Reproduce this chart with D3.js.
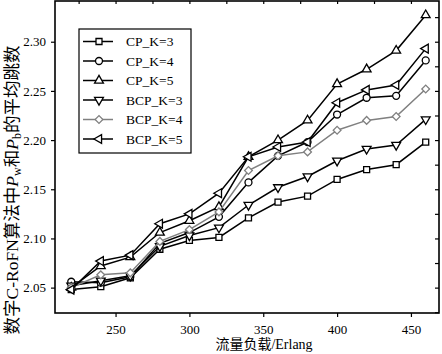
<!DOCTYPE html>
<html>
<head>
<meta charset="utf-8">
<script src="https://cdn.jsdelivr.net/npm/d3@7"></script>
<style>
body { margin: 0; background: #fff; }
text { font-family: "Liberation Serif", "Noto Sans CJK SC", serif; }
</style>
</head>
<body>
<div id="chart"></div>
<script>
const width = 442
const height = 354
const margin = {top: 1, bottom: 41, left: 55, right: 3}
const netWidth = width - margin.left - margin.right
const netHeight = height - margin.bottom - margin.top

// Data
const loads = [220, 240, 260, 280, 300, 320, 340, 360, 380, 400, 420, 440, 460]
const cpK3 = [2.048, 2.051, 2.060, 2.089, 2.098, 2.101, 2.121, 2.137, 2.143, 2.160, 2.170, 2.175, 2.198]
const cpK4 = [2.056, 2.055, 2.061, 2.095, 2.106, 2.122, 2.157, 2.184, 2.198, 2.226, 2.243, 2.245, 2.281]
const cpK5 = [2.050, 2.072, 2.081, 2.106, 2.118, 2.132, 2.183, 2.200, 2.220, 2.257, 2.272, 2.291, 2.327]
const bcpK3 = [2.052, 2.057, 2.062, 2.092, 2.103, 2.111, 2.134, 2.152, 2.163, 2.179, 2.191, 2.195, 2.221]
const bcpK4 = [2.050, 2.063, 2.065, 2.097, 2.109, 2.127, 2.169, 2.184, 2.188, 2.210, 2.220, 2.224, 2.252]
const bcpK5 = [2.048, 2.077, 2.083, 2.115, 2.125, 2.146, 2.183, 2.193, 2.198, 2.238, 2.251, 2.256, 2.293]
const seriesNames = ["CP_K=3", "CP_K=4", "CP_K=5", "BCP_K=3", "BCP_K=4", "BCP_K=5"]
const xTicks = [250, 300, 350, 400, 450]
const yTicks = [2.05, 2.10, 2.15, 2.20, 2.25, 2.30]

const series = [
    {name: seriesNames[0], values: cpK3, color: "#000", symbol: d3.symbolSquare, size: 36, rotate: 0},
    {name: seriesNames[1], values: cpK4, color: "#000", symbol: d3.symbolCircle, size: 38, rotate: 0},
    {name: seriesNames[2], values: cpK5, color: "#000", symbol: d3.symbolTriangle, size: 34, rotate: 0},
    {name: seriesNames[3], values: bcpK3, color: "#000", symbol: d3.symbolTriangle, size: 34, rotate: 180},
    {name: seriesNames[4], values: bcpK4, color: "#808080", symbol: d3.symbolSquare, size: 30, rotate: 45},
    {name: seriesNames[5], values: bcpK5, color: "#000", symbol: d3.symbolTriangle, size: 34, rotate: -90}
]

const svg = d3.select("div#chart").append("svg").attr("width", width).attr("height", height)
const elementGroup = svg.append("g").attr("transform", `translate(${margin.left}, ${margin.top})`)

const x = d3.scaleLinear().domain([209, 469]).range([0, netWidth])
const y = d3.scaleLinear().domain([2.0242, 2.3414]).range([netHeight, 0])

// Axes
const minorX = d3.range(225, 469, 25)
const minorY = d3.range(2.025, 2.341, 0.025)

const xAxisGroup = elementGroup.append("g").attr("transform", `translate(0, ${netHeight})`)
xAxisGroup.call(d3.axisBottom(x).tickValues(minorX).tickSize(3).tickFormat(""))
xAxisGroup.call(d3.axisBottom(x).tickValues(xTicks).tickSize(4).tickFormat(d3.format("d")))
const yAxisGroup = elementGroup.append("g")
yAxisGroup.call(d3.axisLeft(y).tickValues(minorY).tickSize(3).tickFormat(""))
yAxisGroup.call(d3.axisLeft(y).tickValues(yTicks).tickSize(4).tickFormat(d3.format(".2f")))
elementGroup.append("g").call(d3.axisTop(x).tickValues(minorX).tickSize(-3).tickFormat(""))
elementGroup.append("g").attr("transform", `translate(${netWidth}, 0)`)
    .call(d3.axisRight(y).tickValues(minorY).tickSize(-4).tickFormat(""))

elementGroup.selectAll(".domain").remove()
elementGroup.selectAll(".tick line").attr("stroke", "#000").attr("stroke-width", 1.2)
elementGroup.selectAll(".tick text").attr("fill", "#000").style("font-size", "13px")
xAxisGroup.selectAll(".tick text").attr("dy", "1.05em")
yAxisGroup.selectAll(".tick text").attr("dx", "-2px")

elementGroup.append("rect")
    .attr("width", netWidth).attr("height", netHeight)
    .attr("fill", "none").attr("stroke", "#000").attr("stroke-width", 1.6)

// Lines and markers
const line = d3.line().x((d, i) => x(loads[i])).y(d => y(d))
const linesGroup = elementGroup.append("g")
series.forEach(s => {
    const g = linesGroup.append("g")
    g.append("path").datum(s.values)
        .attr("d", line).attr("fill", "none")
        .attr("stroke", s.color).attr("stroke-width", 1.5)
    g.selectAll("path.mark").data(s.values).enter().append("path")
        .attr("class", "mark")
        .attr("d", d3.symbol().type(s.symbol).size(s.size))
        .attr("transform", (d, i) => `translate(${x(loads[i])}, ${y(d)}) rotate(${s.rotate})`)
        .attr("fill", "#fff").attr("stroke", s.color).attr("stroke-width", 1.3)
})

// Legend
const legend = svg.append("g").attr("transform", "translate(79, 29)")
legend.append("rect").attr("width", 112).attr("height", 124)
    .attr("fill", "#fff").attr("stroke", "#000").attr("stroke-width", 1.2)
series.forEach((s, i) => {
    const ly = 12.5 + i * 19.5
    legend.append("line").attr("x1", 4).attr("x2", 34).attr("y1", ly).attr("y2", ly)
        .attr("stroke", s.color).attr("stroke-width", 1.5)
    legend.append("path")
        .attr("d", d3.symbol().type(s.symbol).size(s.size))
        .attr("transform", `translate(20, ${ly}) rotate(${s.rotate})`)
        .attr("fill", "#fff").attr("stroke", s.color).attr("stroke-width", 1.3)
    legend.append("text").attr("x", 47).attr("y", ly + 4.5)
        .style("font-size", "13.5px").attr("fill", "#000").text(s.name)
})

// Axis titles
svg.append("text").attr("x", 264).attr("y", 349).attr("text-anchor", "middle")
    .style("font-size", "14px").text("流量负载/Erlang")

const yTitle = svg.append("text")
    .attr("transform", "translate(18, 190) rotate(-90)")
    .attr("text-anchor", "middle").style("font-size", "17.5px")
yTitle.append("tspan").text("数字C-RoFN算法中")
yTitle.append("tspan").style("font-style", "italic").text("P")
yTitle.append("tspan").attr("dy", 3).style("font-size", "12px").text("w")
yTitle.append("tspan").attr("dy", -3).text("和")
yTitle.append("tspan").style("font-style", "italic").text("P")
yTitle.append("tspan").attr("dy", 3).style("font-size", "12px").text("b")
yTitle.append("tspan").attr("dy", -3).text("的平均跳数")
</script>
</body>
</html>
